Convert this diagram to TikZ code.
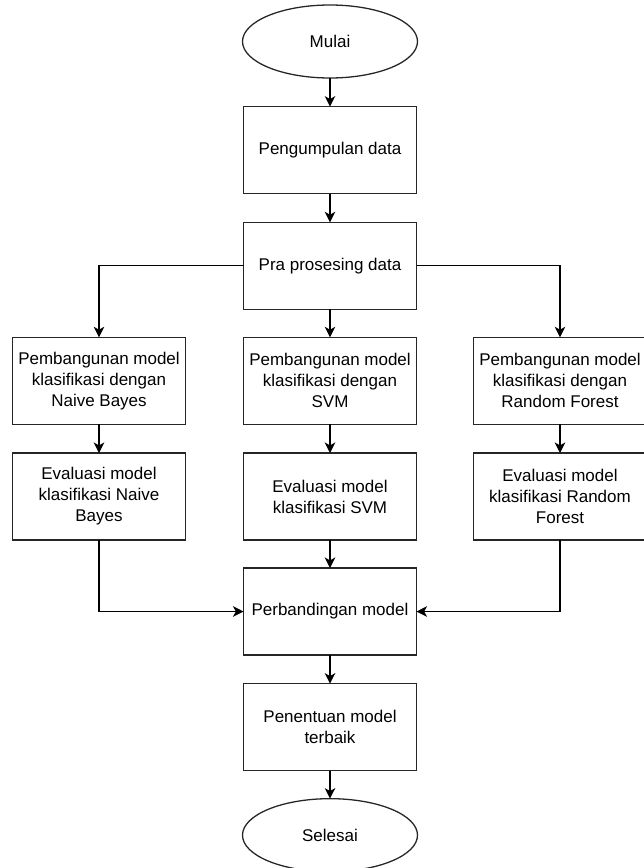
\documentclass[tikz,border=0pt]{standalone}
\usepackage{fontspec}
\setmainfont{Liberation Sans}
\usepackage{tikz}
\usetikzlibrary{arrows.meta, positioning, shapes.geometric}
\tikzset{
  flownode/.style = {align=center, inner sep=0pt, outer sep=0pt, text centered,
    font=\fontsize{14.5}{17.9}\selectfont, draw=black!85, line width=1.1pt},
  proc/.style = {flownode, rectangle, minimum width=5.19cm, minimum height=2.61cm},
  term/.style = {flownode, ellipse, minimum width=5.25cm, minimum height=2.19cm}
}

\begin{document}
\begin{tikzpicture}[->, >={Stealth[length=9pt, width=9pt, inset=2.5pt]},
  line width=1.1pt, node distance=0.86cm]
\useasboundingbox (0,0) rectangle (19.32,-26.04);
\node [term] (mulai) at (9.9,-1.245) {Mulai};
\node [proc, below=of mulai] (kumpul) {Pengumpulan data};
\node [proc, below=of kumpul] (pra) {Pra prosesing data};
% baris model
\node [proc, below=0.84cm of pra] (svm1) {Pembangunan model\\klasifikasi dengan\\SVM};
\node [proc, left=1.74cm of svm1] (nb1) {Pembangunan model\\klasifikasi dengan\\Naive Bayes};
\node [proc, right=1.71cm of svm1] (rf1) {Pembangunan model\\klasifikasi dengan\\Random Forest};
% baris evaluasi
\node [proc, below=of svm1] (svm2) {Evaluasi model\\klasifikasi SVM};
\node [proc, below=of nb1] (nb2) {Evaluasi model\\klasifikasi Naive\\Bayes};
\node [proc, below=of rf1] (rf2) {Evaluasi model\\klasifikasi Random\\Forest};
\node [proc, below=0.84cm of svm2] (banding) {Perbandingan model};
\node [proc, below=of banding] (tentu) {Penentuan model\\terbaik};
\node [term, below=0.84cm of tentu] (selesai) {Selesai};

\draw (mulai) -- (kumpul);
\draw (kumpul) -- (pra);
\draw (pra.west) -| (nb1.north);
\draw (pra) -- (svm1);
\draw (pra.east) -| (rf1.north);
\draw (nb1) -- (nb2);
\draw (svm1) -- (svm2);
\draw (rf1) -- (rf2);
\draw (nb2.south) |- (banding.west);
\draw (svm2) -- (banding);
\draw (rf2.south) |- (banding.east);
\draw (banding) -- (tentu);
\draw (tentu) -- (selesai);
\end{tikzpicture}
\end{document}
